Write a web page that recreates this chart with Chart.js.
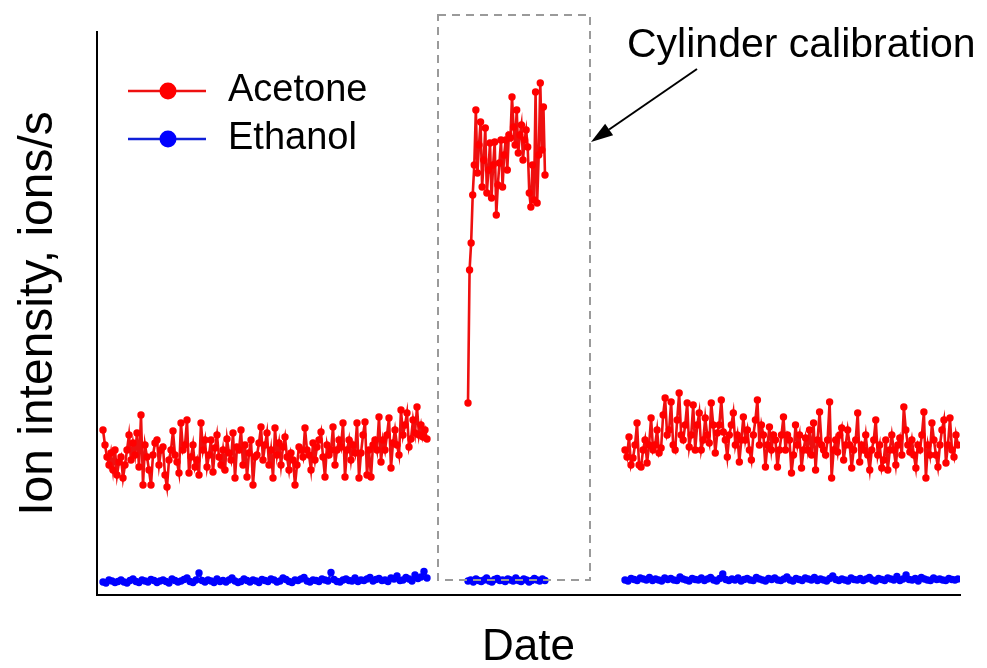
<!DOCTYPE html>
<html>
<head>
  <meta charset="utf-8">
  <script src="https://cdn.jsdelivr.net/npm/chart.js@4.4.1/dist/chart.umd.min.js"></script>
  <style>
    body { margin: 0; background: #fff; }
  </style>
</head>
<body>
  <canvas id="ionChart" width="987" height="668"></canvas>

<script>
  // Sampling windows on the time axis (arbitrary units): monitoring, cylinder calibration, monitoring.
  const runStarts = [6, 371, 528];
  const runEnds = [330, 448, 861];

  // Acetone ion intensity (ions/s, arbitrary scale).
  const acetoneRun1 = [
    1650, 1500, 1380, 1300, 1420, 1250, 1450, 1200, 1330, 1380,
    1170, 1300, 1450, 1600, 1350, 1520, 1400, 1620, 1280, 1800,
    1100, 1500, 1380, 1250, 1100, 1400, 1520, 1550, 1300, 1450,
    1480, 1200, 1080, 1350, 1450, 1640, 1400, 1330, 1220, 1720,
    1450, 1500, 1750, 1220, 1380, 1500, 1280, 1350, 1200, 1720,
    1450, 1550, 1280, 1400, 1550, 1230, 1470, 1600, 1380, 1300,
    1450, 1250, 1560, 1420, 1350, 1620, 1170, 1480, 1450, 1650,
    1300, 1500, 1180, 1420, 1550, 1100, 1380, 1400, 1520, 1680,
    1350, 1500, 1620, 1300, 1450, 1170, 1670, 1400, 1520, 1300,
    1480, 1580, 1380, 1250, 1420, 1350, 1100, 1300, 1480, 1450,
    1380, 1670, 1450, 1400, 1250, 1520, 1350, 1480, 1550, 1630,
    1380, 1180, 1500, 1400, 1450, 1680, 1300, 1450, 1550, 1480,
    1720, 1180, 1450, 1550, 1350, 1500, 1420, 1720, 1170, 1420,
    1600, 1730, 1200, 1450, 1180, 1500, 1550, 1450, 1780, 1330,
    1550, 1450, 1600, 1770, 1270, 1520, 1650, 1500, 1400, 1850,
    1600, 1700, 1820, 1480, 1560, 1750, 1620, 1880, 1600, 1700,
    1580, 1650, 1560
  ];
  const acetoneCal = [
    1920, 3250, 3520, 4000, 4300, 4850, 4220, 4500, 4730, 4080,
    4350, 4670, 4020, 4250, 4520, 3970, 4300, 4530, 3800, 4100,
    4320, 4550, 4080, 4400, 4550, 4250, 4600, 4570, 4980, 4680,
    4500, 4850, 4420, 4600, 4700, 4350, 4550, 4650, 4480, 4020,
    3880, 4300, 3950, 5030, 3920, 4400, 5120, 4450, 4880, 4200
  ];
  const acetoneRun2 = [
    1450, 1380, 1580, 1300, 1370, 1500, 1720, 1300, 1280, 1450,
    1550, 1320, 1500, 1770, 1450, 1500, 1650, 1420, 1470, 1800,
    1970, 1600, 1650, 1930, 1500, 1450, 1750, 2020, 1600, 1550,
    1700, 1920, 1480, 1600, 1900, 1450, 1700, 1820, 1450, 1550,
    1770, 1600, 1520, 1920, 1700, 1420, 1620, 1700, 1950, 1630,
    1550, 1380, 1600, 1700, 1820, 1500, 1600, 1330, 1550, 1780,
    1550, 1650, 1450, 1350, 1600, 1750, 1950, 1500, 1700, 1600,
    1280, 1500, 1680, 1450, 1600, 1550, 1280, 1450, 1600, 1780,
    1450, 1600, 1550, 1220, 1400, 1700, 1500, 1600, 1270, 1450,
    1570, 1450, 1650, 1400, 1720, 1250, 1550, 1830, 1500, 1450,
    1400, 1550, 1930, 1170, 1450, 1550, 1430, 1600, 1670, 1350,
    1500, 1650, 1500, 1270, 1450, 1550, 1820, 1330, 1500, 1450,
    1600, 1400, 1250, 1450, 1550, 1750, 1400, 1500, 1270, 1350,
    1550, 1250, 1450, 1600, 1450, 1300, 1500, 1570, 1400, 1880,
    1650, 1500, 1430, 1550, 1400, 1270, 1500, 1450, 1600, 1830,
    1170, 1500, 1400, 1720, 1550, 1400, 1280, 1500, 1650, 1750,
    1320, 1500, 1770, 1450, 1380, 1600, 1500
  ];

  // Ethanol ion intensity.
  const ethanolRun1 = [
    130, 120, 150, 140, 125, 135, 150, 130, 120, 145, 160, 135, 125, 150, 140, 130, 155, 145, 125, 140,
    150, 135, 120, 160, 145, 130, 140, 155, 170, 135, 125, 150, 220, 145, 130, 150, 140, 125, 160, 135,
    145, 130, 150, 170, 140, 125, 135, 160, 145, 130, 150, 140, 125, 155, 145, 135, 160, 150, 130, 140,
    170, 155, 135, 125, 150, 145, 160, 175, 140, 130, 150, 145, 135, 160, 150, 140, 225, 155, 135, 130,
    150, 160, 145, 140, 170, 135, 150, 145, 160, 175, 140, 155, 165, 145, 150, 135, 170, 160, 190, 145,
    150, 175, 160, 140, 200, 165, 180, 235, 170
  ];
  const ethanolCal = [
    140, 150, 130, 160, 145, 135, 150, 170, 140, 130, 155, 165, 145, 150, 135, 160, 150, 140, 170, 145,
    135, 160, 150, 130, 145, 165, 150, 140, 160, 145
  ];
  const ethanolRun2 = [
    150, 140, 165, 155, 145, 170, 160, 150, 175, 145, 160, 150, 140, 170, 155, 165, 150, 145, 180, 160,
    150, 140, 165, 155, 150, 170, 145, 160, 175, 150, 140, 165, 210, 155, 145, 160, 150, 170, 140, 155,
    165, 150, 145, 175, 160, 150, 140, 165, 155, 170, 150, 145, 160, 180, 150, 140, 165, 155, 145, 170,
    160, 150, 175, 145, 160, 150, 140, 165, 190, 155, 145, 160, 150, 140, 170, 155, 150, 165, 145, 160,
    175, 150, 140, 165, 155, 145, 170, 160, 150, 185, 145, 160, 200, 155, 150, 165, 140, 175, 160, 150,
    145, 170, 155, 160, 150, 145, 165, 155, 150, 160
  ];

  // Turn the three runs of one compound into {x, y} points, with a null between runs to break the line.
  function buildSeries(runs) {
    const pts = [];
    runs.forEach((vals, r) => {
      if (r > 0) pts.push({ x: (runEnds[r - 1] + runStarts[r]) / 2, y: null });
      const step = (runEnds[r] - runStarts[r]) / (vals.length - 1);
      vals.forEach((v, i) => pts.push({ x: runStarts[r] + i * step, y: v }));
    });
    return pts;
  }

  // Legend marker: a short line with a dot in the middle.
  function legendMarker(lineColor, dotColor) {
    const c = document.createElement('canvas');
    c.width = 102;
    c.height = 20;
    const g = c.getContext('2d');
    g.strokeStyle = lineColor;
    g.lineWidth = 2.5;
    g.beginPath();
    g.moveTo(21, 10);
    g.lineTo(99, 10);
    g.stroke();
    g.fillStyle = dotColor;
    g.beginPath();
    g.arc(61, 10, 8.5, 0, Math.PI * 2);
    g.fill();
    return c;
  }

  // Dashed box round the calibration run, with the labelled arrow.
  const calBox = { xMin: 341, xMax: 493, yMin: 150, yMax: 5800 };
  const calArrow = { x0: 600, y0: 5260, x1: 494, y1: 4530 };
  const calLabel = { x: 530, y: 5380, text: 'Cylinder calibration' };

  const calibrationPlugin = {
    id: 'calibration',
    afterDatasetsDraw(chart) {
      const { ctx, scales: { x, y } } = chart;
      const left = x.getPixelForValue(calBox.xMin);
      const right = x.getPixelForValue(calBox.xMax);
      const top = y.getPixelForValue(calBox.yMax);
      const bottom = y.getPixelForValue(calBox.yMin);

      ctx.save();
      ctx.strokeStyle = '#9a9a9a';
      ctx.lineWidth = 2;
      ctx.setLineDash([8, 6]);
      ctx.strokeRect(left, top, right - left, bottom - top);
      ctx.setLineDash([]);

      // arrow
      const ax0 = x.getPixelForValue(calArrow.x0), ay0 = y.getPixelForValue(calArrow.y0);
      const ax1 = x.getPixelForValue(calArrow.x1), ay1 = y.getPixelForValue(calArrow.y1);
      const ang = Math.atan2(ay1 - ay0, ax1 - ax0);
      const headLen = 22, headHalf = 7;
      const bx = ax1 - headLen * Math.cos(ang), by = ay1 - headLen * Math.sin(ang);
      ctx.strokeStyle = '#000';
      ctx.fillStyle = '#000';
      ctx.lineWidth = 2;
      ctx.beginPath();
      ctx.moveTo(ax0, ay0);
      ctx.lineTo(bx, by);
      ctx.stroke();
      ctx.beginPath();
      ctx.moveTo(ax1, ay1);
      ctx.lineTo(bx + headHalf * Math.sin(ang), by - headHalf * Math.cos(ang));
      ctx.lineTo(bx - headHalf * Math.sin(ang), by + headHalf * Math.cos(ang));
      ctx.closePath();
      ctx.fill();

      ctx.font = '41px "Liberation Sans", Arial, sans-serif';
      ctx.textAlign = 'left';
      ctx.textBaseline = 'alphabetic';
      ctx.fillText(calLabel.text, x.getPixelForValue(calLabel.x), y.getPixelForValue(calLabel.y));
      ctx.restore();
    }
  };

  const ctx = document.getElementById('ionChart').getContext('2d');
  new Chart(ctx, {
    type: 'line',
    data: {
      datasets: [{
        label: 'Acetone',
        data: buildSeries([acetoneRun1, acetoneCal, acetoneRun2]),
        borderColor: '#ee1010',
        backgroundColor: '#ff0000',
        borderWidth: 2.6,
        pointRadius: 3.7,
        pointBorderWidth: 0,
        pointBackgroundColor: '#ff0000',
        pointStyle: 'circle',
        spanGaps: false
      }, {
        label: 'Ethanol',
        data: buildSeries([ethanolRun1, ethanolCal, ethanolRun2]),
        borderColor: '#1020d8',
        backgroundColor: '#0000ff',
        borderWidth: 2.4,
        pointRadius: 3.7,
        pointBorderWidth: 0,
        pointBackgroundColor: '#0000ff',
        pointStyle: 'circle',
        spanGaps: false
      }]
    },
    options: {
      responsive: false,
      animation: false,
      layout: { padding: { top: 32, right: 27, left: 0, bottom: 0 } },
      scales: {
        x: {
          type: 'linear',
          min: 0,
          max: 863,
          grid: { display: false },
          border: { display: true, color: '#000', width: 2 },
          ticks: { display: false },
          title: {
            display: true,
            text: 'Date',
            color: '#000',
            font: { family: '"Liberation Sans", Arial, sans-serif', size: 44 },
            padding: { top: 0, bottom: -6 }
          },
          afterFit(scale) { scale.height = 73; }
        },
        y: {
          min: 0,
          max: 5630,
          grid: { display: false },
          border: { display: true, color: '#000', width: 2 },
          ticks: { display: false },
          title: {
            display: true,
            text: 'Ion intensity, ions/s',
            color: '#000',
            font: { family: '"Liberation Sans", Arial, sans-serif', size: 48 },
            padding: { top: 10, bottom: 0 }
          },
          afterFit(scale) { scale.width = 97; }
        }
      },
      plugins: {
        tooltip: { enabled: false },
        legend: {
          position: 'chartArea',
          align: 'start',
          title: { display: true, text: ' ', font: { size: 10 }, padding: { top: 0, bottom: 50 } },
          labels: {
            usePointStyle: true,
            pointStyleWidth: 102,
            padding: 10,
            color: '#000',
            font: { family: '"Liberation Sans", Arial, sans-serif', size: 38 },
            generateLabels(chart) {
              return chart.data.datasets.map((ds, i) => ({
                text: ds.label,
                datasetIndex: i,
                pointStyle: legendMarker(ds.borderColor, ds.pointBackgroundColor),
                fillStyle: ds.pointBackgroundColor,
                strokeStyle: ds.borderColor,
                lineWidth: 0,
                hidden: false,
                fontColor: '#000'
              }));
            }
          }
        }
      }
    },
    plugins: [calibrationPlugin]
  });
</script>
</body>
</html>
